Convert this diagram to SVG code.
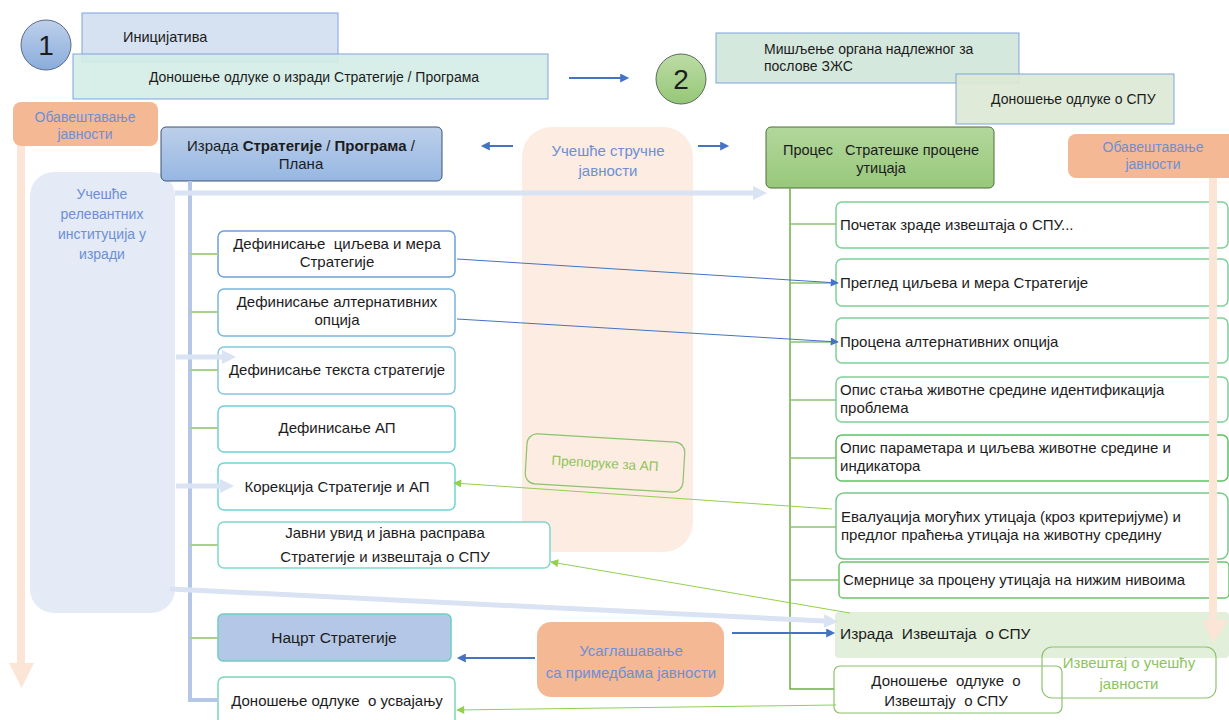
<svg xmlns="http://www.w3.org/2000/svg" width="1229" height="720" viewBox="0 0 1229 720">
<defs>
  <linearGradient id="gC1" x1="0" y1="0" x2="0" y2="1"><stop offset="0" stop-color="#bed0eb"/><stop offset="1" stop-color="#8aacdb"/></linearGradient>
  <linearGradient id="gC2" x1="0" y1="0" x2="0" y2="1"><stop offset="0" stop-color="#bddca6"/><stop offset="1" stop-color="#95c777"/></linearGradient>
  <linearGradient id="gIzr" x1="0" y1="0" x2="0" y2="1"><stop offset="0" stop-color="#bccfea"/><stop offset="1" stop-color="#96b7e2"/></linearGradient>
  <linearGradient id="gProc" x1="0" y1="0" x2="0" y2="1"><stop offset="0" stop-color="#b3d79c"/><stop offset="1" stop-color="#98c87b"/></linearGradient>
  <marker id="mBlue" viewBox="0 0 10 10" refX="9" refY="5" markerWidth="9" markerHeight="8" markerUnits="userSpaceOnUse" orient="auto"><path d="M0,0 L10,5 L0,10 z" fill="#4472c4"/></marker>
  <marker id="mBlue2" viewBox="0 0 10 10" refX="2" refY="5" markerWidth="10" markerHeight="9" markerUnits="userSpaceOnUse" orient="auto"><path d="M0,0 L10,5 L0,10 z" fill="#4472c4"/></marker>
  <marker id="mGreen" viewBox="0 0 10 10" refX="9" refY="5" markerWidth="9" markerHeight="8" markerUnits="userSpaceOnUse" orient="auto"><path d="M0,0 L10,5 L0,10 z" fill="#92d050"/></marker>
  <marker id="mLight" viewBox="0 0 14 14" refX="0" refY="7" markerWidth="14" markerHeight="14" markerUnits="userSpaceOnUse" orient="auto"><path d="M0,0 L14,7 L0,14 z" fill="#dae3f3"/></marker>
</defs>
<style>
  text{font-family:"Liberation Sans",Arial,sans-serif;fill:#1c1c1c}
  .s13{font-size:13.5px}
  .s14{font-size:14px}
  .s145{font-size:14.5px}
  .s15{font-size:15px}
  .m{text-anchor:middle}
  .blue{fill:#6d8fd4}
  .grn{fill:#8cc45a}
  .pre{white-space:pre}
  .lbox{fill:#ffffff;stroke-width:1.5}
  .rbox{fill:#ffffff;stroke:#7dd197;stroke-width:1.5}
  .orange{fill:#f4b994}
  .light{stroke:#dae3f3;stroke-width:5;fill:none}
  .thinB{stroke:#4472c4;stroke-width:1;fill:none}
  .thickB{stroke:#4472c4;stroke-width:2;fill:none}
  .thinG{stroke:#92d050;stroke-width:1;fill:none}
  .stubL{stroke:#a9d18e;stroke-width:2}
  .stubR{stroke:#8dc26f;stroke-width:1.5}
</style>

<!-- background panels -->
<g id="ucesce-strucne">
  <rect x="522" y="127" width="171" height="425" rx="30" fill="#fcece2"/>
  <text class="s15 m blue" x="608" y="156">Учешће стручне</text>
  <text class="s15 m blue" x="608" y="176">јавности</text>
</g>
<g id="ucesce-institucija">
  <rect x="30" y="172" width="145" height="441" rx="24" fill="#e4eaf6"/>
  <text class="s14 m blue" x="102" y="199">Учешће</text>
  <text class="s14 m blue" x="102" y="219">релевантних</text>
  <text class="s14 m blue" x="102" y="239">институција у</text>
  <text class="s14 m blue" x="102" y="259">изради</text>
</g>

<!-- phase 1 -->
<g id="circle-1">
  <ellipse cx="46" cy="45" rx="25" ry="25" fill="url(#gC1)" stroke="#5b6b84" stroke-width="1"/>
  <text x="46" y="55" class="m" style="font-size:28px">1</text>
</g>
<g id="inicijativa">
  <rect x="82" y="13" width="256" height="49" fill="#d6e1f1" stroke="#7ea3de" stroke-width="1"/>
  <text class="s145" x="123" y="42">Иницијатива</text>
</g>
<g id="odluka-izrada">
  <rect x="73" y="54" width="475" height="45" fill="#d4ede7" fill-opacity="0.9" stroke="#7ea3de" stroke-width="1"/>
  <text class="s14 m" x="314" y="82">Доношење одлуке о изради Стратегије / Програма</text>
</g>
<g id="obavestavanje-levo">
  <rect x="13" y="102" width="145" height="44" rx="8" class="orange"/>
  <text class="s14 m blue" x="85" y="122">Обавештавање</text>
  <text class="s14 m blue" x="85" y="139">јавности</text>
</g>
<g id="izrada-strategije">
  <rect x="161" y="127" width="281" height="54" rx="5" fill="url(#gIzr)" stroke="#3f5375" stroke-width="1"/>
  <text class="s15 m" x="301" y="151">Израда <tspan font-weight="bold">Стратегије</tspan> / <tspan font-weight="bold">Програма</tspan> /</text>
  <text class="s15 m" x="301" y="169">Плана</text>
</g>

<!-- left column boxes -->
<g id="def-ciljeva">
  <rect x="218" y="231" width="237" height="46" rx="6" class="lbox" stroke="#6d9fdb"/>
  <text class="s15 m pre" x="337" y="249">Дефинисање  циљева и мера</text>
  <text class="s15 m" x="337" y="267">Стратегије</text>
</g>
<g id="def-alternativa">
  <rect x="218" y="289" width="237" height="47" rx="6" class="lbox" stroke="#78b5dc"/>
  <text class="s15 m" x="337" y="307">Дефинисање алтернативних</text>
  <text class="s15 m" x="337" y="325">опција</text>
</g>
<g id="def-teksta">
  <rect x="218" y="347" width="237" height="47" rx="6" class="lbox" stroke="#86c7df"/>
  <text class="s15 m" x="337" y="375">Дефинисање текста стратегије</text>
</g>
<g id="def-ap">
  <rect x="218" y="406" width="237" height="46" rx="6" class="lbox" stroke="#6fcfdc"/>
  <text class="s15 m" x="337" y="433">Дефинисање АП</text>
</g>
<g id="korekcija">
  <rect x="218" y="463" width="237" height="47" rx="6" class="lbox" stroke="#6fd5d5"/>
  <text class="s15 m" x="337" y="492">Корекција Стратегије и АП</text>
</g>
<g id="javni-uvid">
  <rect x="218" y="522" width="332" height="46" rx="6" class="lbox" stroke="#7fd7cd"/>
  <text class="s15 m" x="385" y="538">Јавни увид и јавна расправа</text>
  <text class="s15 m" x="385" y="562">Стратегије и извештаја о СПУ</text>
</g>
<g id="nacrt">
  <rect x="218" y="614" width="233" height="47" rx="5" fill="#b4c7e7" stroke="#6ccfbd" stroke-width="1.5"/>
  <text class="m" style="font-size:15.5px" x="334" y="643">Нацрт Стратегије</text>
</g>
<g id="usvajanje">
  <rect x="218" y="677" width="237" height="50" rx="6" class="lbox" stroke="#7ad7b9"/>
  <text class="s15 m pre" x="337" y="706">Доношење одлуке  о усвајању</text>
</g>

<!-- middle -->
<g id="preporuke">
  <rect x="526" y="438" width="158" height="50" rx="10" transform="rotate(3.4 605 463)" fill="none" stroke="#8dc26f" stroke-width="1.2"/>
  <text class="s13 m grn" x="605" y="468" transform="rotate(3.4 605 463)">Препоруке за АП</text>
</g>
<g id="usaglasavanje">
  <rect x="537" y="622" width="187" height="75" rx="14" class="orange"/>
  <text class="s15 m blue" x="631" y="656">Усаглашавање</text>
  <text class="s15 m blue" x="631" y="678">са примедбама јавности</text>
</g>

<!-- phase 2 -->
<g id="circle-2">
  <ellipse cx="681" cy="79" rx="25" ry="25" fill="url(#gC2)" stroke="#5b6b5b" stroke-width="1"/>
  <text x="681" y="89" class="m" style="font-size:28px">2</text>
</g>
<g id="misljenje">
  <rect x="716" y="33" width="303" height="50" fill="#d5e8dd" stroke="#7ea3de" stroke-width="1"/>
  <text class="s14" x="764" y="54">Мишљење органа надлежног за</text>
  <text class="s14" x="764" y="71">послове ЗЖС</text>
</g>
<g id="odluka-spu">
  <rect x="956" y="74" width="218" height="50" fill="#dce8d5" fill-opacity="0.92" stroke="#7ea3de" stroke-width="1"/>
  <text class="s14" x="991" y="104">Доношење одлуке о СПУ</text>
</g>
<g id="proces-spu">
  <rect x="766" y="127" width="228" height="61" rx="5" fill="url(#gProc)" stroke="#4f6e3a" stroke-width="1"/>
  <text class="s145 m pre" x="881" y="155">Процес   Стратешке процене</text>
  <text class="s145 m" x="881" y="173">утицаја</text>
</g>
<g id="obavestavanje-desno">
  <rect x="1068" y="134" width="170" height="44" rx="8" class="orange"/>
  <text class="s14 m blue" x="1153" y="152">Обавештавање</text>
  <text class="s14 m blue" x="1153" y="169">јавности</text>
</g>

<!-- right column boxes -->
<g id="pocetak">
  <rect x="836" y="202" width="392" height="46" rx="6" class="rbox"/>
  <text class="s15" x="840" y="230">Почетак зраде извештаја о СПУ...</text>
</g>
<g id="pregled">
  <rect x="836" y="259" width="392" height="47" rx="6" class="rbox"/>
  <text class="s15" x="840" y="288">Преглед циљева и мера Стратегије</text>
</g>
<g id="procena-alt">
  <rect x="836" y="318" width="392" height="45" rx="6" class="rbox"/>
  <text class="s15" x="840" y="347">Процена алтернативних опција</text>
</g>
<g id="opis-stanja">
  <rect x="836" y="377" width="392" height="45" rx="6" class="rbox"/>
  <text class="s15" x="840" y="395">Опис стања животне средине идентификација</text>
  <text class="s15" x="840" y="413">проблема</text>
</g>
<g id="opis-parametara">
  <rect x="836" y="435" width="392" height="46" rx="6" class="rbox" style="stroke:#5cc360"/>
  <text class="s15" x="840" y="453">Опис параметара и циљева животне средине и</text>
  <text class="s15" x="840" y="471">индикатора</text>
</g>
<g id="evaluacija">
  <rect x="836" y="493" width="392" height="66" rx="8" class="rbox" style="stroke:#77c98a"/>
  <text class="s15" x="841" y="522">Евалуација могућих утицаја (кроз критеријуме) и</text>
  <text class="s15" x="841" y="540">предлог праћења утицаја на животну средину</text>
</g>
<g id="smernice">
  <rect x="839" y="562" width="390" height="36" rx="4" class="rbox" style="stroke:#6cc46c"/>
  <text class="s15" x="843" y="585">Смернице за процену утицаја на нижим нивоима</text>
</g>
<g id="izrada-izvestaja">
  <rect x="835" y="612" width="394" height="46" rx="4" fill="#e2efda"/>
  <text class="pre" style="font-size:15.5px" x="840" y="639">Израда  Извештаја  о СПУ</text>
</g>
<g id="odluka-izvestaj">
  <rect x="834" y="666" width="228" height="47" rx="6" fill="#ffffff" stroke="#8dc26f" stroke-width="1.2"/>
  <text class="s15 m pre" x="946" y="686">Доношење  одлуке  о</text>
  <text class="s15 m pre" x="946" y="706">Извештају  о СПУ</text>
</g>
<g id="izvestaj-ucesce">
  <rect x="1042" y="647" width="174" height="51" rx="10" fill="none" stroke="#8dc26f" stroke-width="1.2"/>
  <text class="s15 m grn" x="1129" y="668">Извештај о учешћу</text>
  <text class="s15 m grn" x="1129" y="689">јавности</text>
</g>

<!-- connectors -->
<g id="connectors">
  <!-- orange notice arrows -->
  <rect x="17" y="146" width="8" height="518" fill="#fbe5d6"/>
  <polygon points="9,663 34,663 21.5,688" fill="#fbe5d6"/>
  <rect x="1209" y="178" width="8" height="443" fill="#fbe5d6"/>
  <polygon points="1202,620 1228,620 1213,643" fill="#fbe5d6"/>
  <!-- left tree -->
  <path d="M190,181 V700 H218" stroke="#b4c7e7" stroke-width="4" fill="none"/>
  <line class="stubL" x1="190" y1="254" x2="218" y2="254"/>
  <line class="stubL" x1="190" y1="312" x2="218" y2="312"/>
  <line class="stubL" x1="190" y1="370" x2="218" y2="370"/>
  <line class="stubL" x1="190" y1="428" x2="218" y2="428"/>
  <line class="stubL" x1="190" y1="545" x2="218" y2="545"/>
  <line class="stubL" x1="190" y1="638" x2="218" y2="638"/>
  <!-- right tree -->
  <path d="M790,188 V689 H834" stroke="#70ad47" stroke-width="1.5" fill="none"/>
  <line class="stubR" x1="790" y1="224" x2="836" y2="224"/>
  <line class="stubR" x1="790" y1="283" x2="836" y2="283"/>
  <line class="stubR" x1="790" y1="342" x2="836" y2="342"/>
  <line class="stubR" x1="790" y1="400" x2="836" y2="400"/>
  <line class="stubR" x1="790" y1="458" x2="836" y2="458"/>
  <line class="stubR" x1="790" y1="527" x2="836" y2="527"/>
  <line class="stubR" x1="790" y1="580" x2="839" y2="580"/>
  <!-- light blue participation arrows -->
  <line class="light" x1="175" y1="193" x2="753" y2="193" marker-end="url(#mLight)"/>
  <line class="light" x1="176" y1="357" x2="222" y2="357" marker-end="url(#mLight)"/>
  <line class="light" x1="176" y1="486" x2="220" y2="486" marker-end="url(#mLight)"/>
  <line class="light" x1="170" y1="589" x2="824" y2="621" marker-end="url(#mLight)"/>
  <!-- top arrows -->
  <line class="thickB" x1="569" y1="78" x2="622" y2="78" marker-end="url(#mBlue2)"/>
  <line class="thickB" x1="513" y1="146" x2="488" y2="146" marker-end="url(#mBlue2)"/>
  <line class="thickB" x1="698" y1="146" x2="722" y2="146" marker-end="url(#mBlue2)"/>
  <!-- blue cross arrows -->
  <line class="thinB" x1="457" y1="259" x2="838" y2="283" marker-end="url(#mBlue)"/>
  <line class="thinB" x1="457" y1="319" x2="838" y2="342" marker-end="url(#mBlue)"/>
  <line class="thickB" x1="535" y1="658" x2="464" y2="658" marker-end="url(#mBlue2)"/>
  <line class="thickB" x1="732" y1="633" x2="828" y2="633" marker-end="url(#mBlue2)"/>
  <!-- green feedback arrows -->
  <line class="thinG" x1="832" y1="509" x2="454" y2="483" marker-end="url(#mGreen)"/>
  <line class="thinG" x1="850" y1="613" x2="551" y2="562" marker-end="url(#mGreen)"/>
  <line class="thinG" x1="836" y1="705" x2="457" y2="710" marker-end="url(#mGreen)"/>
</g>
</svg>
